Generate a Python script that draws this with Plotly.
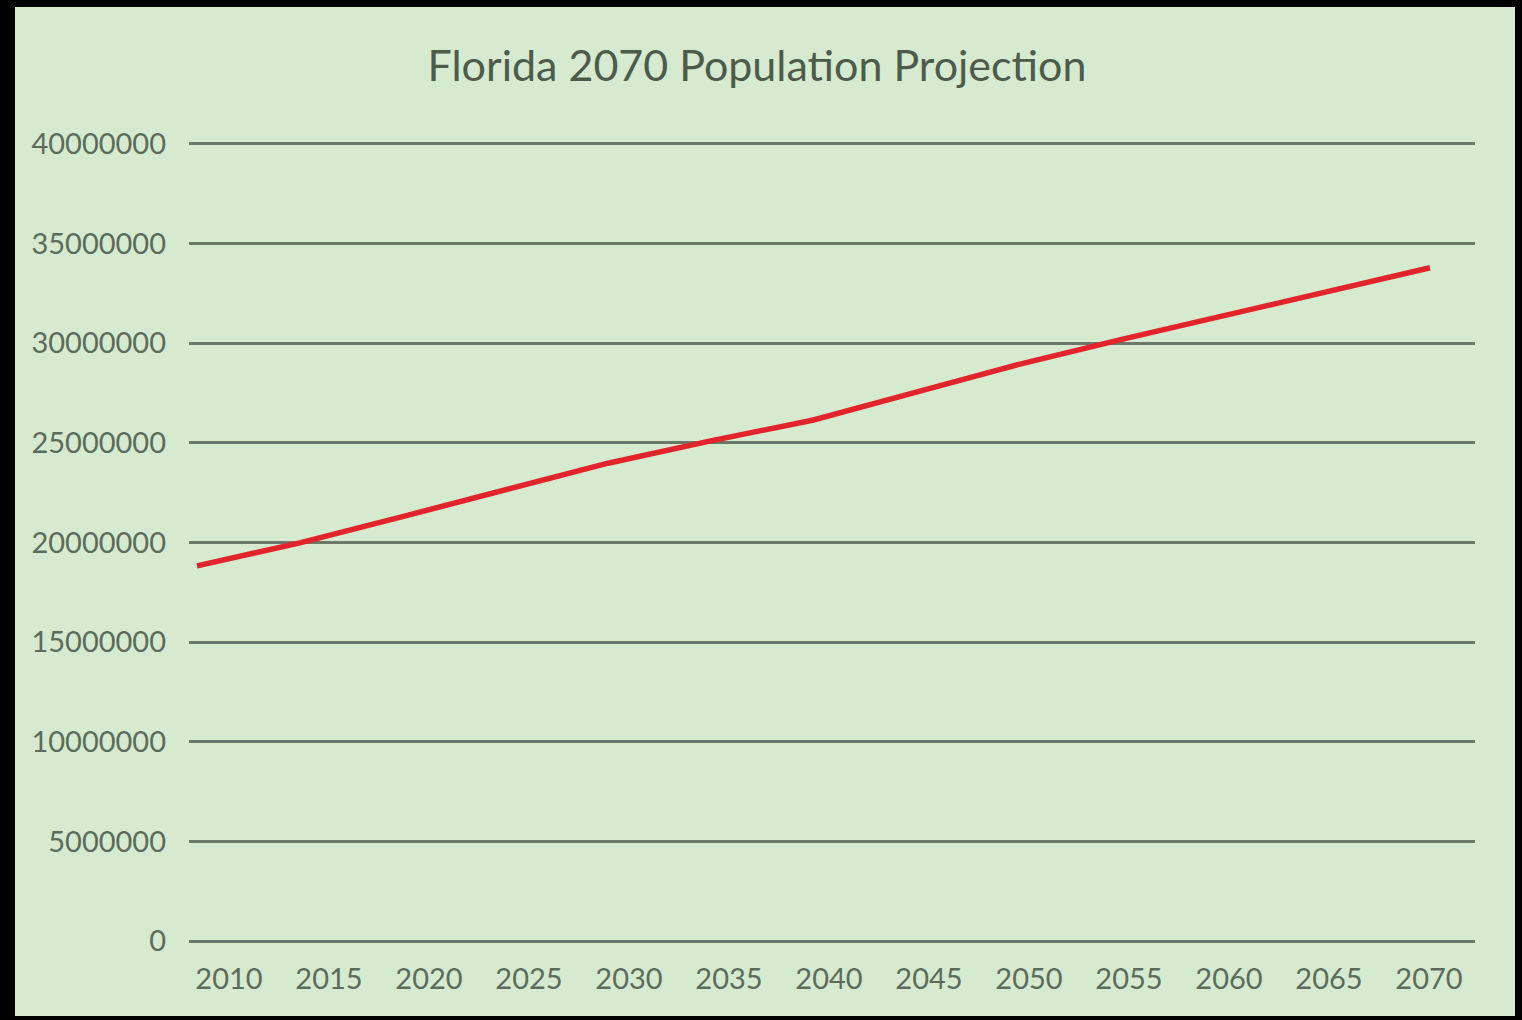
import plotly.graph_objects as go

# Florida population projection
years = [2010, 2015, 2020, 2025, 2030, 2035, 2040, 2045, 2050, 2055, 2060, 2065, 2070]
population = [18830000, 19980000, 21300000, 22640000, 23980000, 25100000, 26150000,
              27550000, 28940000, 30190000, 31400000, 32610000, 33790000]
year_labels = [str(y) for y in years]
y_ticks = [0, 5000000, 10000000, 15000000, 20000000, 25000000, 30000000, 35000000, 40000000]

W, H = 1522, 1020
L, R, T, B = 189, 47, 140, 79
plot_w = W - L - R
plot_h = H - T - B
y_top = 40200000  # a little headroom so the 40M gridline is drawn

BG = "#d5eacf"
GRID = "#6b7a68"
TEXT = "#5d6c5a"
FONT = "Lato, Carlito, 'Open Sans', sans-serif"


def px_x(p):
    return (p - L) / plot_w


def px_y(p):
    return (H - B - p) / plot_h


fig = go.Figure()

# invisible copy on the label axis so that axis gets drawn
fig.add_trace(
    go.Scatter(
        x=years,
        y=population,
        mode="markers",
        marker=dict(opacity=0),
        hoverinfo="skip",
        showlegend=False,
    )
)

fig.add_trace(
    go.Scatter(
        x=years,
        y=population,
        mode="lines",
        line=dict(color="#e3242b", width=5.5),
        xaxis="x2",
        yaxis="y",
        hoverinfo="x+y",
        showlegend=False,
    )
)

# data axis: line runs a little left of the tick labels, as in the picture
px_per_year = (1430 - 197) / (years[-1] - years[0])
x2_min = years[0] - (197 - L) / px_per_year
x2_max = years[-1] + (W - R - 1430) / px_per_year

# label axis: 100 px between labels, first centred at 229
lbl_per_year = 100 / 5
x_min = years[0] - (229 - L) / lbl_per_year
x_max = years[0] + (W - R - 229) / lbl_per_year

# green panel inside the black frame
fig.add_shape(
    type="rect",
    xref="paper",
    yref="paper",
    x0=px_x(15),
    x1=px_x(1515),
    y0=px_y(1016),
    y1=px_y(7),
    fillcolor=BG,
    line=dict(width=0),
    layer="below",
)

fig.update_layout(
    width=W,
    height=H,
    margin=dict(l=L, r=R, t=T, b=B),
    paper_bgcolor="black",
    plot_bgcolor=BG,
    font=dict(family=FONT, color=TEXT, size=29),
    title=dict(
        text="Florida 2070 Population Projection",
        x=757 / W,
        xanchor="center",
        y=1 - 66 / H,
        yanchor="middle",
        yref="container",
        xref="container",
        font=dict(family=FONT, size=43, color="#4d5b4b"),
    ),
    xaxis=dict(
        range=[x_min, x_max],
        tickvals=years,
        ticktext=year_labels,
        showgrid=False,
        zeroline=False,
        showline=False,
        ticks="",
        ticklabelstandoff=18,
        tickfont=dict(size=29, color=TEXT),
        fixedrange=True,
    ),
    xaxis2=dict(
        range=[x2_min, x2_max],
        overlaying="x",
        visible=False,
        fixedrange=True,
    ),
    yaxis=dict(
        range=[0, y_top],
        tickvals=y_ticks,
        ticktext=[str(v) for v in y_ticks],
        showgrid=True,
        gridcolor=GRID,
        gridwidth=3,
        zeroline=True,
        zerolinecolor=GRID,
        zerolinewidth=3,
        showline=False,
        ticks="",
        ticklabelstandoff=22,
        tickfont=dict(size=29, color=TEXT),
        fixedrange=True,
    ),
)

fig.write_html(
    "out.html",
    config={"displayModeBar": False},
    post_script="document.body.style.margin='0';",
)
